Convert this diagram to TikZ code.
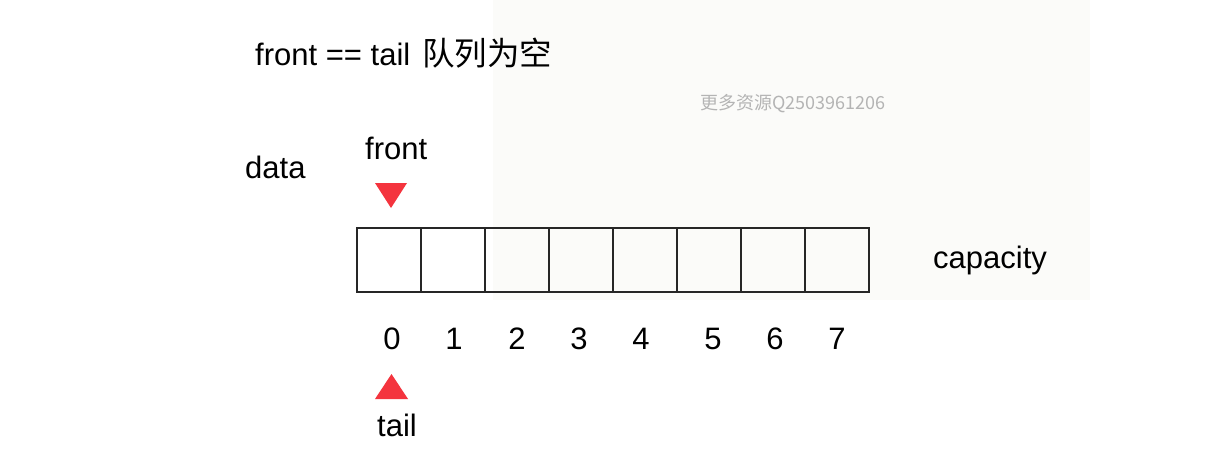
\documentclass[tikz,border=0pt]{standalone}
\usepackage{fontspec}
\setmainfont{Liberation Sans}
\newfontfamily\cjk{Noto Sans CJK SC}
\definecolor{bgtint}{RGB}{251,251,249}
\definecolor{marker}{RGB}{244,52,62}
\definecolor{wmark}{RGB}{180,180,180}
\begin{document}
\begin{tikzpicture}[x=1pt,y=-1pt,
  lbl/.style={font=\fontsize{31}{31}\selectfont, inner sep=0pt, anchor=base west},
  idx/.style={font=\fontsize{31}{31}\selectfont, inner sep=0pt, anchor=base},
  cell/.style={draw=black!85, line width=1.3pt, minimum width=64pt, minimum height=64pt, inner sep=0pt, outer sep=0pt},
  ptr/.style={fill=marker}]
\useasboundingbox (0,0) rectangle (1220,461);
\fill[white] (0,0) rectangle (1220,461);
\fill[bgtint] (493,0) rectangle (1090,300);
% title
\node[lbl] (title) at (255,65) {front == tail\hspace{12pt}{\cjk\fontsize{32.5}{32.5}\selectfont 队列为空}};
% watermark
\node[inner sep=0pt, anchor=base west, text=wmark, font=\cjk\fontsize{18}{18}\selectfont] (wm) at (700,109) {更多资源Q2503961206};
% labels
\node[lbl] (data) at (245,178) {data};
\node[lbl] (front) at (365,159) {front};
\node[lbl] (cap) at (933,268) {capacity};
\node[lbl] (tail) at (377,436) {tail};
% cells
\foreach \i in {0,...,7} {
  \node[cell] (c\i) at ({389+64*\i},260) {};
}
% indices
\node[idx] (n0) at (392,349) {0};
\node[idx] (n1) at (454,349) {1};
\node[idx] (n2) at (517,349) {2};
\node[idx] (n3) at (579,349) {3};
\node[idx] (n4) at (641,349) {4};
\node[idx] (n5) at (713,349) {5};
\node[idx] (n6) at (775,349) {6};
\node[idx] (n7) at (837,349) {7};
% pointers
\fill[ptr] (375,183) -- (407,183) -- (391,208) -- cycle;
\fill[ptr] (375,399) -- (408,399) -- (391.5,374) -- cycle;
\end{tikzpicture}
\end{document}
